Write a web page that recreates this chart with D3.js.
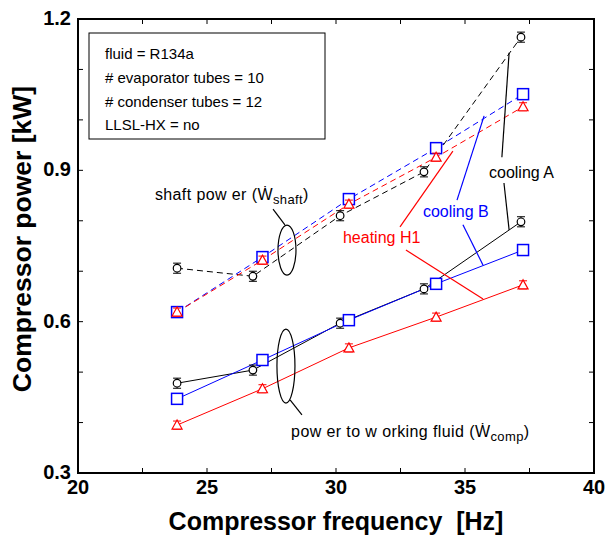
<!DOCTYPE html>
<html>
<head>
<meta charset="utf-8">
<script src="https://cdn.jsdelivr.net/npm/d3@7"></script>
<style>
  html, body { margin: 0; padding: 0; background: #fff; }
  svg { display: block; font-family: "Liberation Sans", Arial, sans-serif; }
</style>
</head>
<body>
<svg id="chart" width="605" height="541"></svg>
<script>
// Compressor frequency [Hz] for each operating point
const freqA = [23.84, 26.78, 30.16, 33.41, 37.17];
const freqB = [23.84, 27.15, 30.50, 33.88, 37.25];
const freqH = [23.84, 27.15, 30.50, 33.88, 37.25];

// Shaft power [kW]
const shaftA = [0.706, 0.690, 0.810, 0.897, 1.164];
const shaftB = [0.619, 0.728, 0.843, 0.944, 1.051];
const shaftH = [0.619, 0.722, 0.833, 0.926, 1.026];

// Power to working fluid [kW]
const compA = [0.478, 0.504, 0.597, 0.665, 0.798];
const compB = [0.447, 0.524, 0.603, 0.675, 0.742];
const compH = [0.395, 0.467, 0.548, 0.609, 0.673];

// Measurement uncertainty [kW]
const errA = 0.010;
const errB = 0.006;
const errH = 0.008;

// Axes
const xTicks = [20, 25, 30, 35, 40];
const xMinor = [22.5, 27.5, 32.5, 37.5];
const yTicks = [0.3, 0.6, 0.9, 1.2];
const yMinor = [0.4, 0.5, 0.7, 0.8, 1.0, 1.1];

const infoLines = ["fluid = R134a", "# evaporator tubes = 10", "# condenser tubes = 12", "LLSL-HX = no"];

const svg = d3.select("#chart");
const pL = 78, pR = 594, pT = 19, pB = 473;

const x = d3.scaleLinear().domain([20, 40]).range([pL, pR]);
const y = d3.scaleLinear().domain([0.3, 1.2]).range([pB, pT]);

// ---- frame and ticks ----
const g = svg.append("g");
const tickLen = 5;
xTicks.slice(1, -1).concat(xMinor).forEach(v => {
  g.append("line").attr("x1", x(v)).attr("x2", x(v)).attr("y1", pB).attr("y2", pB - tickLen).attr("stroke", "#000");
  g.append("line").attr("x1", x(v)).attr("x2", x(v)).attr("y1", pT).attr("y2", pT + tickLen).attr("stroke", "#000");
});
yTicks.slice(1, -1).concat(yMinor).forEach(v => {
  g.append("line").attr("x1", pL).attr("x2", pL + tickLen).attr("y1", y(v)).attr("y2", y(v)).attr("stroke", "#000");
  g.append("line").attr("x1", pR).attr("x2", pR - tickLen).attr("y1", y(v)).attr("y2", y(v)).attr("stroke", "#000");
});
g.append("rect").attr("x", pL).attr("y", pT).attr("width", pR - pL).attr("height", pB - pT)
  .attr("fill", "none").attr("stroke", "#000").attr("stroke-width", 2);

// tick labels
g.selectAll(".xl").data(xTicks).join("text")
  .attr("x", d => x(d)).attr("y", 494)
  .attr("text-anchor", "middle")
  .attr("font-size", 20).attr("font-weight", "bold")
  .text(d => d);
g.selectAll(".yl").data(yTicks).join("text")
  .attr("x", pL - 7).attr("y", d => y(d) + 6)
  .attr("text-anchor", "end")
  .attr("font-size", 20).attr("font-weight", "bold")
  .text(d => d3.format(".1f")(d));

// axis titles
svg.append("text").attr("x", (pL + pR) / 2).attr("y", 530)
  .attr("text-anchor", "middle").attr("font-size", 25).attr("font-weight", "bold")
  .attr("xml:space", "preserve")
  .text("Compressor frequency  [Hz]");
svg.append("text").attr("transform", "translate(31,239) rotate(-90)")
  .attr("text-anchor", "middle").attr("font-size", 26.5).attr("font-weight", "bold")
  .text("Compressor power [kW]");

// info box
const box = svg.append("g");
box.append("rect").attr("x", 89).attr("y", 33).attr("width", 236).attr("height", 106)
  .attr("fill", "#fff").attr("stroke", "#000").attr("stroke-width", 1);
box.selectAll("text").data(infoLines).join("text")
  .attr("x", 105).attr("y", (d, i) => 59 + i * 23.8)
  .attr("font-size", 15).text(d => d);

// ---- series ----
const series = [
  { f: freqA, v: shaftA, e: errA, color: "#000", sym: "circle", dash: "6,4" },
  { f: freqB, v: shaftB, e: errB, color: "#0000ff", sym: "square", dash: "6,4" },
  { f: freqH, v: shaftH, e: errH, color: "#ff0000", sym: "triangle", dash: "6,4" },
  { f: freqA, v: compA, e: errA, color: "#000", sym: "circle", dash: null },
  { f: freqB, v: compB, e: errB, color: "#0000ff", sym: "square", dash: null },
  { f: freqH, v: compH, e: errH, color: "#ff0000", sym: "triangle", dash: null }
];

const line = d3.line().x(d => x(d[0])).y(d => y(d[1]));
const marks = svg.append("g");
series.forEach(s => {
  const pts = s.f.map((f, i) => [f, s.v[i]]);
  marks.append("path").attr("d", line(pts)).attr("fill", "none")
    .attr("stroke", s.color).attr("stroke-width", 1)
    .attr("stroke-dasharray", s.dash);
});
series.forEach(s => {
  const pts = s.f.map((f, i) => [f, s.v[i]]);
  pts.forEach(p => {
    const cx = x(p[0]), cy = y(p[1]);
    const y1 = y(p[1] + s.e), y2 = y(p[1] - s.e);
    // error bar
    marks.append("line").attr("x1", cx).attr("x2", cx).attr("y1", y1).attr("y2", y2).attr("stroke", s.color);
    marks.append("line").attr("x1", cx - 4).attr("x2", cx + 4).attr("y1", y1).attr("y2", y1).attr("stroke", s.color);
    marks.append("line").attr("x1", cx - 4).attr("x2", cx + 4).attr("y1", y2).attr("y2", y2).attr("stroke", s.color);
    if (s.sym === "circle") {
      marks.append("circle").attr("cx", cx).attr("cy", cy).attr("r", 3.8)
        .attr("fill", "#fff").attr("stroke", s.color).attr("stroke-width", 1.2);
    } else if (s.sym === "square") {
      marks.append("rect").attr("x", cx - 5.5).attr("y", cy - 5.5).attr("width", 11).attr("height", 11)
        .attr("fill", "#fff").attr("stroke", s.color).attr("stroke-width", 1.5);
    } else {
      marks.append("path").attr("d", `M${cx},${cy - 5}L${cx + 5},${cy + 4}L${cx - 5},${cy + 4}Z`)
        .attr("fill", "#fff").attr("stroke", s.color).attr("stroke-width", 1.2);
    }
  });
});

// ---- annotations ----
const ann = svg.append("g").attr("font-size", 16);
function seg(a, b, c) {
  ann.append("line").attr("x1", x(a[0])).attr("y1", y(a[1])).attr("x2", x(b[0])).attr("y2", y(b[1]))
    .attr("stroke", c).attr("stroke-width", 1.2);
}
// cooling A
seg([36.71, 1.133], [36.43, 0.926], "#000");
seg([36.51, 0.875], [36.71, 0.782], "#000");
ann.append("text").attr("x", x(35.93)).attr("y", y(0.885)).attr("fill", "#000").text("cooling A");
// cooling B
seg([35.74, 1.008], [34.69, 0.841], "#0000ff");
seg([34.92, 0.792], [35.70, 0.712], "#0000ff");
ann.append("text").attr("x", x(33.37)).attr("y", y(0.808)).attr("fill", "#0000ff").text("cooling B");
// heating H1
seg([34.53, 0.938], [32.48, 0.788], "#ff0000");
seg([32.71, 0.742], [35.70, 0.645], "#ff0000");
ann.append("text").attr("x", x(30.27)).attr("y", y(0.756)).attr("fill", "#ff0000").text("heating H1");

// group ellipses
ann.append("ellipse").attr("cx", x(28.10)).attr("cy", y(0.742)).attr("rx", 9).attr("ry", 25)
  .attr("fill", "none").attr("stroke", "#000").attr("stroke-width", 1.2);
seg([27.56, 0.823], [28.02, 0.792], "#000");
ann.append("ellipse").attr("cx", x(28.06)).attr("cy", y(0.512)).attr("rx", 9).attr("ry", 37)
  .attr("fill", "none").attr("stroke", "#000").attr("stroke-width", 1.2);
seg([28.22, 0.445], [28.68, 0.415], "#000");

const t1 = ann.append("text").attr("x", x(22.98)).attr("y", y(0.841)).attr("font-size", 16)
  .attr("letter-spacing", 0.4).attr("xml:space", "preserve");
t1.append("tspan").text("shaft pow er (\u1E86");
t1.append("tspan").attr("font-size", 13).attr("dy", 4).text("shaft");
t1.append("tspan").attr("dy", -4).text(")");

const t2 = ann.append("text").attr("x", x(28.26)).attr("y", y(0.371)).attr("font-size", 16)
  .attr("letter-spacing", 0.4).attr("xml:space", "preserve");
t2.append("tspan").text("pow er to w orking fluid (\u1E86");
t2.append("tspan").attr("font-size", 13).attr("dy", 4).text("comp");
t2.append("tspan").attr("dy", -4).text(")");
</script>
</body>
</html>
